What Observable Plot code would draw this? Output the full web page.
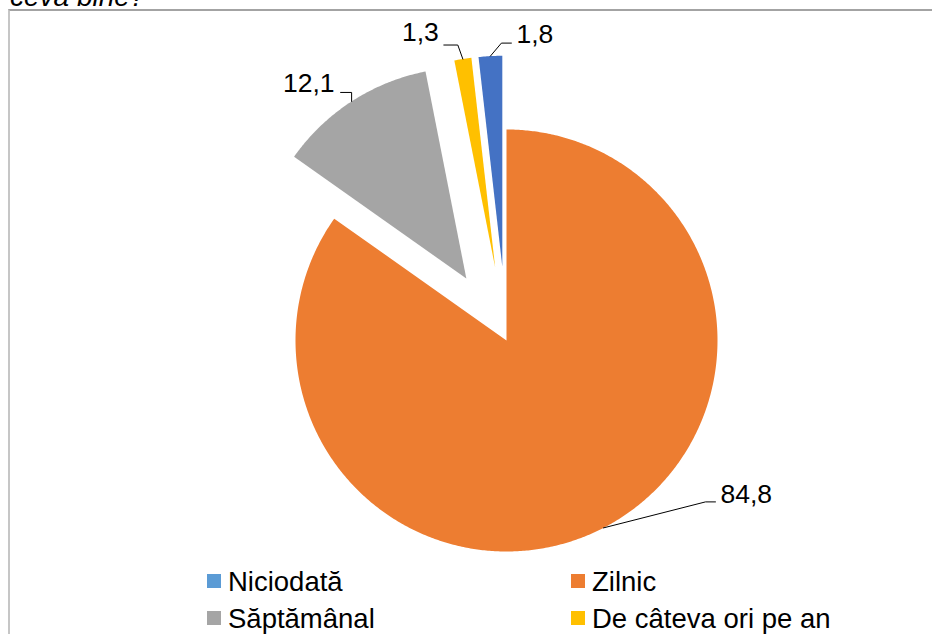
<!DOCTYPE html>
<html><head><meta charset="utf-8">
<script src="https://cdn.jsdelivr.net/npm/d3@7"></script>
<script src="https://cdn.jsdelivr.net/npm/@observablehq/plot@0.6"></script>
<style>
html,body{margin:0;padding:0;background:#fff;overflow:hidden;width:932px;height:634px;font-family:"Liberation Sans",Arial,sans-serif;color:#000;}
#title{position:absolute;left:10px;top:-19px;font-size:28px;font-style:italic;line-height:32px;white-space:nowrap;}
#frame{position:absolute;left:8px;top:9px;width:1000px;height:1000px;border-top:2px solid #a3a3a3;border-left:2px solid #c6c6c6;box-sizing:border-box;}
#chart{position:absolute;left:0;top:0;}
#legend{position:absolute;left:0;top:0;width:932px;height:634px;pointer-events:none;}
.item{position:absolute;height:37px;font-size:27.5px;line-height:37px;white-space:nowrap;}
.sw{position:absolute;left:0;top:11px;width:14px;height:14px;}
.lab{position:absolute;left:21px;top:0;}
</style></head>
<body>
<div id="title">ceva bine?</div>
<div id="frame"></div>
<div id="chart"></div>
<div id="legend"></div>
<script>
// ---- data ----
const categories = ["Niciodată", "Zilnic", "Săptămânal", "De câteva ori pe an"];
const values = [1.8, 84.8, 12.1, 1.3];
const valueLabels = ["1,8", "84,8", "12,1", "1,3"];
// ---- styles / layout ----
const sliceColors = ["#4472C4", "#ED7D31", "#A5A5A5", "#FFC000"];
const legendColors = ["#5B9BD5", "#ED7D31", "#A5A5A5", "#FFC000"];
const drawOrder = ["Zilnic", "Săptămânal", "De câteva ori pe an", "Niciodată"]; // clockwise from 12 o'clock
const exploded = ["Săptămânal", "De câteva ori pe an", "Niciodată"];
const explodeFrac = 0.35;      // explosion as fraction of radius
const R = 211;                 // pixels per unit radius
const W = 932, H = 562;
const cx = 506, cy = 340;      // pie centre in page pixels
// label leader layout in pixel offsets from the slice's arc point (y down)
const labelLayout = {
  "Zilnic":              {elbow: [102, -26], end: [112, -26], text: [5, 1],  anchor: "start"},
  "Săptămânal":          {elbow: [0, -9],    end: [-11, -9],  text: [-6, 0], anchor: "end"},
  "De câteva ori pe an": {elbow: [-5, -14],  end: [-19, -14], text: [-5, -4], anchor: "end"},
  "Niciodată":           {elbow: [11, -13],  end: [21, -13],  text: [5, 0],  anchor: "start"}
};
const fontSize = 26.5;

// ---- geometry in unit coordinates (y up) ----
const total = d3.sum(values);
const polys = [], leaders = [], texts = [];
let start = 0;
for (const cat of drawOrder) {
  const i = categories.indexOf(cat);
  const a0 = start, a1 = start + values[i] / total * 2 * Math.PI;
  start = a1;
  const mid = (a0 + a1) / 2;
  const e = exploded.includes(cat) ? explodeFrac : 0;
  const ox = e * Math.sin(mid), oy = e * Math.cos(mid);
  polys.push({cat, x: ox, y: oy});
  const n = Math.max(8, Math.ceil((a1 - a0) * 120));
  for (let k = 0; k <= n; k++) {
    const a = a0 + (a1 - a0) * k / n;
    polys.push({cat, x: ox + Math.sin(a), y: oy + Math.cos(a)});
  }
  polys.push({cat, x: ox, y: oy});
  // leader
  const ax = ox + Math.sin(mid), ay = oy + Math.cos(mid);
  const L = labelLayout[cat];
  const pt = ([dx, dy]) => ({x: ax + dx / R, y: ay - dy / R});
  const p1 = pt(L.elbow), p2 = pt(L.end);
  leaders.push({cat, x: ax, y: ay}, {cat, ...p1}, {cat, ...p2});
  const tx = p2.x + L.text[0] / R;
  const baseline = p2.y - L.text[1] / R;
  texts.push({cat, label: valueLabels[i], anchor: L.anchor, x: tx, y: baseline + 0.32 * fontSize / R});
}

const chart = Plot.plot({
  width: W, height: H,
  marginLeft: 0, marginRight: 0, marginTop: 0, marginBottom: 0,
  x: {domain: [-cx / R, (W - cx) / R], range: [0, W], axis: null},
  y: {domain: [-(H - cy) / R, cy / R], range: [H, 0], axis: null},
  color: {domain: categories, range: sliceColors},
  style: {background: "transparent", fontFamily: "'Liberation Sans', Arial, sans-serif", overflow: "visible"},
  marks: [
    Plot.line(polys, {x: "x", y: "y", z: "cat", fill: "cat", stroke: "none", curve: "linear"}),
    Plot.line(leaders, {x: "x", y: "y", z: "cat", stroke: "#000", strokeWidth: 1, curve: "linear"}),
    Plot.text(texts.filter(d => d.anchor === "start"), {x: "x", y: "y", text: "label", textAnchor: "start", fontSize, fill: "#000"}),
    Plot.text(texts.filter(d => d.anchor === "end"), {x: "x", y: "y", text: "label", textAnchor: "end", fontSize, fill: "#000"})
  ]
});
document.getElementById("chart").appendChild(chart);

// ---- legend (HTML, below the svg) ----
const legendCols = [207, 571];
const legendRows = [563, 600];
const legend = document.getElementById("legend");
categories.forEach((c, i) => {
  const it = document.createElement("div");
  it.className = "item";
  it.style.left = legendCols[i % 2] + "px";
  it.style.top = legendRows[Math.floor(i / 2)] + "px";
  it.innerHTML = `<span class="sw" style="background:${legendColors[i]}"></span><span class="lab">${c}</span>`;
  legend.appendChild(it);
});
</script>
</body></html>
